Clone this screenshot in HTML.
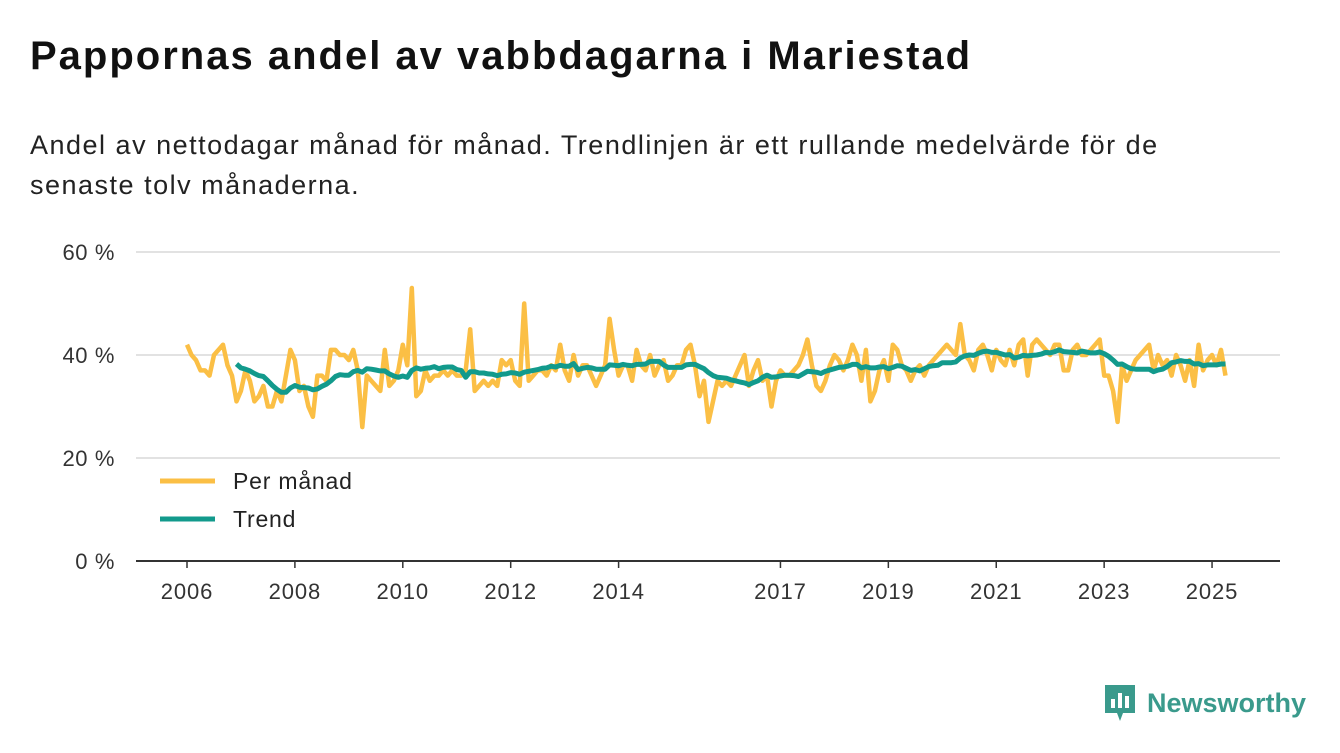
<!DOCTYPE html>
<html><head><meta charset="utf-8"><style>
body{margin:0;width:1340px;height:753px;background:#fff;font-family:"Liberation Sans",sans-serif;overflow:hidden;position:relative}
h1{position:absolute;left:30px;top:34px;margin:0;font-size:40px;letter-spacing:2px;font-weight:bold;color:#111}
.sub{position:absolute;left:30px;top:125px;margin:0;font-size:27px;letter-spacing:1.5px;line-height:40px;color:#222;width:1240px}
</style></head><body>
<h1>Pappornas andel av vabbdagarna i Mariestad</h1>
<p class="sub">Andel av nettodagar månad för månad. Trendlinjen är ett rullande medelvärde för de senaste tolv månaderna.</p>
<svg id="chart" width="1340" height="753" style="position:absolute;left:0;top:0"></svg>
<div style="position:absolute;left:1103px;top:683px;display:flex;align-items:center">
<svg width="34" height="40" viewBox="0 0 34 40"><path d="M2 2h30v28h-12l-3 8-3-8H2z" fill="#3a9a8c"/><rect x="8" y="16" width="4" height="9" fill="#fff"/><rect x="15" y="10" width="4" height="15" fill="#fff"/><rect x="22" y="13" width="4" height="12" fill="#fff"/></svg>
<span style="margin-left:10px;font-size:27px;font-weight:bold;color:#3a9a8c">Newsworthy</span></div>
<script>
const monthly=[42,40,39,37,37,36,40,41,42,38,36,31,
33,37,35,31,32,34,30,30,33,31,36,41,
39,33,34,30,28,36,36,35,41,41,40,40,
39,41,37,26,36,35,34,33,41,34,35,37,
42,38,53,32,33,37,35,36,36,37,36,37,
36,36,37,45,33,34,35,34,35,34,39,38,
39,35,34,50,35,36,37,37,36,38,37,42,
37,35,40,36,38,38,36,34,36,38,47,41,
36,38,38,35,41,38,37,40,36,38,39,35,
36,38,38,41,42,38,32,35,27,31,35,34,
35,34,36,38,40,34,37,39,35,36,30,35,
37,36,36,37,38,40,43,38,34,33,35,38,
40,39,37,39,42,40,35,41,31,33,37,39,
35,42,41,38,37,35,37,38,36,38,39,40,
41,42,41,40,46,40,39,37,41,42,40,37,
41,39,38,41,38,42,43,36,42,43,42,41,
40,42,42,37,37,41,42,40,40,41,42,43,
36,36,33,27,38,35,37,39,40,41,42,37,
40,38,39,36,40,38,35,39,34,42,37,39,
40,38,41,36];
const startYear=2006;
const yTicks=[0,20,40,60];
const xTickYears=[2006,2008,2010,2012,2014,2017,2019,2021,2023,2025];
const NS="http://www.w3.org/2000/svg";
const svg=document.getElementById('chart');
const xs=i=>187+(i/12)*53.95;
const xy=yr=>187+(yr-startYear)*53.95;
const ys=v=>561-v*5.15;
function el(t,a){const e=document.createElementNS(NS,t);for(const k in a)e.setAttribute(k,a[k]);svg.appendChild(e);return e;}
yTicks.forEach(v=>{
  if(v>0){const g=el('line',{x1:136,x2:1280,y1:ys(v),y2:ys(v),stroke:'#d9d9d9','stroke-width':1.5});
  
  }
  const t=el('text',{x:115,y:ys(v)+8,'text-anchor':'end','font-size':22,'letter-spacing':0.6,fill:'#333','font-family':'Liberation Sans'});
  t.textContent=v+' %';
  
  
});
const ax=el('line',{x1:136,x2:1280,y1:561,y2:561,stroke:'#333','stroke-width':2});


xTickYears.forEach(yr=>{
  const tk=el('line',{x1:xy(yr),x2:xy(yr),y1:561,y2:568,stroke:'#333','stroke-width':1.5});
  
  
  const t=el('text',{x:xy(yr),y:599,'text-anchor':'middle','font-size':22,'letter-spacing':0.9,fill:'#333','font-family':'Liberation Sans'});
  t.textContent=yr;
  
  
});
const trend=monthly.map((v,i)=>{if(i<11)return null;let s=0;for(let j=i-11;j<=i;j++)s+=monthly[j];return s/12;});
const mp=el('path',{d:monthly.map((v,i)=>(i?'L':'M')+xs(i).toFixed(1)+' '+ys(v).toFixed(1)).join(''),fill:'none',stroke:'#fbbf45','stroke-width':4.5,'stroke-linejoin':'round'});


let d='';trend.forEach((v,i)=>{if(v!==null)d+=(d?'L':'M')+xs(i).toFixed(1)+' '+ys(v).toFixed(1);});
const tp=el('path',{d:d,fill:'none',stroke:'#129a8c','stroke-width':5,'stroke-linejoin':'round'});


[['Per månad','#fbbf45',481],['Trend','#129a8c',519]].forEach(([lab,c,y])=>{
  const l=el('line',{x1:160,x2:215,y1:y,y2:y,stroke:c,'stroke-width':5});
  
  
  const t=el('text',{x:233,y:y+8,'font-size':23,'letter-spacing':0.8,fill:'#222','font-family':'Liberation Sans'});
  t.textContent=lab;
  
  
});
</script>
</body></html>
